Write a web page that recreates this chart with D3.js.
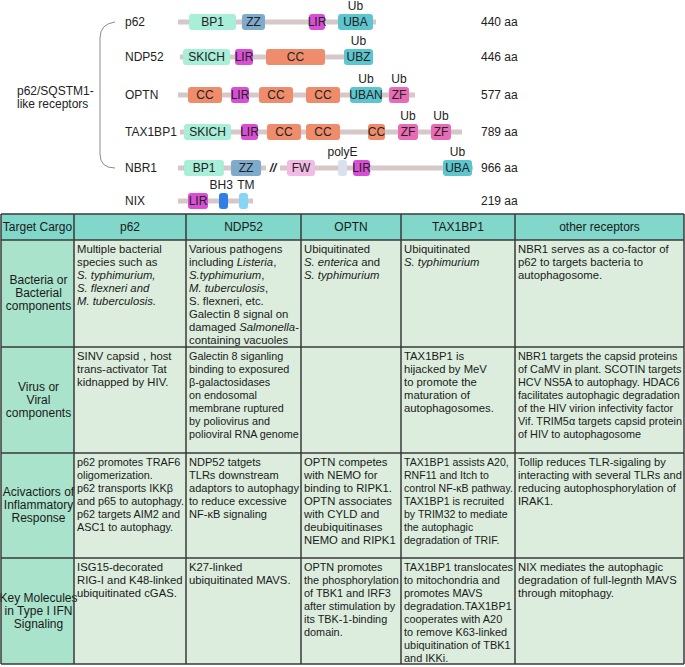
<!DOCTYPE html>
<html>
  <head>
    <meta charset="utf-8">
    <title>p62/SQSTM1-like receptors and their cargo</title>
    <script src="https://d3js.org/d3.v7.min.js"></script>
    <style>
      body { margin: 0; background: #fff; }
      svg { display: block; font-family: "Liberation Sans", Arial, sans-serif; }
      .lbl { font-size: 12px; fill: #222; }
      .cell { font-size: 11.3px; fill: #1a1a1a; }
      .head { font-size: 12px; fill: #1a1a1a; }
    </style>
  </head>
  <body>
    <svg id="chart" width="685" height="667"></svg>
    <script>
      // ---- data: receptor domain maps (positions in diagram units) ----
      const proteins = ["p62", "NDP52", "OPTN", "TAX1BP1", "NBR1", "NIX"];
      const lengths = ["440 aa", "446 aa", "577 aa", "789 aa", "966 aa", "219 aa"];
      const backbones = [[0, 198], [2, 195], [0, 237], [2, 284], [0, 295], [0, 75]];
      // [name, start, end, kind, label above]
      const domainsP62 = [["BP1", 11, 58, "pb1"], ["ZZ", 64, 87, "zz"], ["LIR", 131, 147, "lir"], ["UBA", 160, 195, "ub", "Ub"]];
      const domainsNDP52 = [["SKICH", 5, 52, "pb1"], ["LIR", 57, 75, "lir"], ["CC", 88, 147, "cc"], ["UBZ", 166, 195, "ub", "Ub"]];
      const domainsOPTN = [["CC", 10, 44, "cc"], ["LIR", 53, 71, "lir"], ["CC", 81, 115, "cc"], ["CC", 128, 162, "cc"],
        ["UBAN", 172, 204, "ub", "Ub"], ["ZF", 211, 231, "zf", "Ub"]];
      const domainsTAX1BP1 = [["SKICH", 6, 53, "pb1"], ["LIR", 63, 80, "lir"], ["CC", 89, 123, "cc"], ["CC", 128, 162, "cc"],
        ["CC", 190, 207, "cc"], ["ZF", 220, 240, "zf", "Ub"], ["ZF", 253, 273, "zf", "Ub"]];
      const domainsNBR1 = [["BP1", 6, 46, "pb1"], ["ZZ", 53, 83, "zz"], ["FW", 109, 137, "fw"], ["", 160, 169, "polye", "polyE"],
        ["LIR", 175, 192, "lir"], ["UBA", 265, 294, "ub", "Ub"]];
      const domainsNIX = [["LIR", 10, 30, "lir"], ["", 41, 50, "bh3", "BH3"], ["", 61, 70, "tm", "TM"]];
      const domainSets = [domainsP62, domainsNDP52, domainsOPTN, domainsTAX1BP1, domainsNBR1, domainsNIX];
      const breakMarks = [null, null, null, null, 95, null];

      const kinds = ["pb1", "zz", "lir", "ub", "cc", "zf", "fw", "polye", "bh3", "tm"];
      const kindColors = ["#a8eed8", "#7eaacc", "#d84fd6", "#5cc5ce", "#ee8c6b", "#e96bb5", "#f2bbe3", "#d9e1ee", "#2f7fe4", "#86d5f4"];

      // ---- data: cargo table ----
      const columns = ["Target Cargo", "p62", "NDP52", "OPTN", "TAX1BP1", "other receptors"];
      const rowLabels = [
        ["Bacteria or", "Bacterial", "components"],
        ["Virus or", "Viral", "components"],
        ["Acivactiors of", "Inflammatory", "Response"],
        ["Key Molecules", "in Type I IFN", "Signaling"]
      ];
      // *...* marks italic text
      const bacteriaCells = [
        ["Multiple bacterial", "species such as", "*S. typhimurium,*", "*S. flexneri and*", "*M. tuberculosis.*"],
        ["Various pathogens", "including *Listeria*,", "*S.typhimurium*,", "*M. tuberculosis*,", "S. flexneri, etc.",
          "Galectin 8 signal on", "damaged *Salmonella*-", "containing vacuoles"],
        ["Ubiquitinated", "*S. enterica* and", "*S. typhimurium*"],
        ["Ubiquitinated", "*S. typhimurium*"],
        ["NBR1 serves as a co-factor of", "p62 to targets bacteria to", "autophagosome."]
      ];
      const virusCells = [
        ["SINV capsid\uff0chost", "trans-activator Tat", "kidnapped by HIV."],
        ["Galectin 8 siganling", "binding to exposured", "\u03b2-galactosidases", "on endosomal", "membrane ruptured",
          "by  poliovirus and", "polioviral RNA genome"],
        [],
        ["TAX1BP1 is", "hijacked by MeV", "to promote the", "maturation of", "autophagosomes."],
        ["NBR1 targets the capsid proteins", "of CaMV in plant. SCOTIN targets", "HCV NS5A to autophagy. HDAC6",
          "facilitates autophagic degradation", "of the HIV virion infectivity factor", "Vif. TRIM5\u03b1 targets capsid protein",
          "of HIV to autophagosome"]
      ];
      const inflammationCells = [
        ["p62 promotes TRAF6", "oligomerization.", "p62 transports IKK\u03b2", "and p65 to autophagy.", "p62 targets AIM2 and",
          "ASC1 to autophagy."],
        ["NDP52 tatgets", "TLRs downstream", "adaptors to autophagy", "to reduce excessive", "NF-\u03baB signaling"],
        ["OPTN competes", "with NEMO for", "binding to RIPK1.", "OPTN associates", "with CYLD and", "deubiquitinases",
          "NEMO and RIPK1"],
        ["TAX1BP1 assists A20,", "RNF11 and Itch to", "control NF-\u03baB pathway.", "TAX1BP1 is recruited",
          "by TRIM32 to mediate", "the autophagic", "degradation of TRIF."],
        ["Tollip reduces TLR-sigaling by", "interacting with several TLRs and", "reducing autophosphorylation of", "IRAK1."]
      ];
      const ifnCells = [
        ["ISG15-decorated", "RIG-I and K48-linked", "ubiquitinated cGAS."],
        ["K27-linked", "ubiquitinated MAVS."],
        ["OPTN promotes", "the phosphorylation", "of TBK1 and IRF3", "after stimulation by", "its TBK-1-binding", "domain."],
        ["TAX1BP1 translocates", "to mitochondria and", "promotes MAVS", "degradation.TAX1BP1", "cooperates with A20",
          "to remove K63-linked", "ubiquitination of TBK1", "and IKKi."],
        ["NIX mediates the autophagic", "degradation of full-legnth MAVS", "through mitophagy."]
      ];
      const tableRows = [bacteriaCells, virusCells, inflammationCells, ifnCells];

      // ---- layout ----
      chart = d3.select("#chart");
      diagram = chart.append("g");
      table = chart.append("g");

      x = d3.scaleLinear().domain([0, 300]).range([178, 478]);
      color = d3.scaleOrdinal().domain(kinds).range(kindColors);
      rowY = [22, 57, 95, 132, 168, 201];
      yRow = d3.scaleOrdinal().domain(proteins).range(rowY);

      // bracket for p62/SQSTM1-like receptors
      diagram.append("path")
        .attr("d", "M115,22 Q100,24 100,38 L100,154 Q100,168 115,168")
        .attr("fill", "none")
        .attr("stroke", "#8a8a8a")
        .attr("stroke-width", 1);
      diagram.append("text")
        .attr("class", "lbl")
        .attr("x", 17)
        .attr("y", 95)
        .text("p62/SQSTM1-");
      diagram.append("text")
        .attr("class", "lbl")
        .attr("x", 17)
        .attr("y", 108)
        .text("like receptors");

      rows = diagram.selectAll(".protein")
        .data(proteins)
        .enter().append("g")
          .attr("class", "protein")
          .attr("transform", function(d) { return "translate(0," + yRow(d) + ")"; });

      rows.append("text")
        .attr("class", "lbl")
        .attr("x", 125)
        .attr("dy", "0.35em")
        .text(function(d) { return d; });

      rows.append("text")
        .attr("class", "lbl")
        .attr("x", 481)
        .attr("dy", "0.3em")
        .text(function(d, i) { return lengths[i]; });

      rows.append("rect")
        .attr("x", function(d, i) { return x(backbones[i][0]); })
        .attr("width", function(d, i) { return x(backbones[i][1]) - x(backbones[i][0]); })
        .attr("y", -2.5)
        .attr("height", 5)
        .attr("fill", "#d6c8c8");

      rows.each(function(p, i) {
        const g = d3.select(this);
        const doms = g.selectAll(".dom")
          .data(domainSets[i])
          .enter().append("g")
            .attr("class", "dom");
        doms.append("rect")
          .attr("x", function(d) { return x(d[1]); })
          .attr("width", function(d) { return x(d[2]) - x(d[1]); })
          .attr("y", -8)
          .attr("height", 16)
          .attr("rx", 3)
          .attr("fill", function(d) { return color(d[3]); });
        doms.append("text")
          .attr("class", "lbl")
          .attr("x", function(d) { return (x(d[1]) + x(d[2])) / 2; })
          .attr("dy", "0.36em")
          .attr("text-anchor", "middle")
          .text(function(d) { return d[0]; });
        const above = doms.filter(function(d) { return d[4]; })
          .append("text")
          .attr("class", "lbl above")
          .attr("x", function(d) { return (x(d[1]) + x(d[2])) / 2; })
          .attr("y", -12)
          .attr("text-anchor", "middle")
          .text(function(d) { return d[4]; });
        // push apart labels above that would touch
        const nodes = above.nodes();
        for (let k = 1; k < nodes.length; k++) {
          const a = nodes[k - 1].getBBox(), b = nodes[k].getBBox();
          const gap = b.x - (a.x + a.width);
          if (gap < 4) {
            const shift = (4 - gap) / 2;
            d3.select(nodes[k - 1]).attr("x", +d3.select(nodes[k - 1]).attr("x") - shift);
            d3.select(nodes[k]).attr("x", +d3.select(nodes[k]).attr("x") + shift);
          }
        }
        if (breakMarks[i] != null) {
          g.append("rect")
            .attr("x", x(breakMarks[i]) - 7)
            .attr("width", 14)
            .attr("y", -3)
            .attr("height", 6)
            .attr("fill", "#fff");
          g.append("text")
            .attr("class", "lbl")
            .attr("x", x(breakMarks[i]))
            .attr("dy", "0.36em")
            .attr("text-anchor", "middle")
            .style("font-style", "italic")
            .style("font-weight", "bold")
            .text("//");
        }
      });

      // ---- table ----
      colEdges = [1, 74, 186, 301, 401, 515, 684];
      rowEdges = [214, 240, 347, 453, 558, 664];
      lineH = 13;

      // one <text> per line, italic parts as tspans
      function addLines(sel, lines, x0, y0, anchor, cls) {
        const g = sel.append("g");
        lines.forEach(function(line, k) {
          const t = g.append("text")
            .attr("class", cls)
            .attr("x", x0)
            .attr("y", y0 + k * lineH)
            .attr("text-anchor", anchor);
          line.split("*").forEach(function(part, j) {
            if (!part.length) return;
            const ts = t.append("tspan").text(part);
            if (j % 2 === 1) ts.style("font-style", "italic");
          });
        });
        return g;
      }

      // shrink a cell's text if a line is wider than the cell
      function fit(g, avail) {
        let widest = 0;
        g.selectAll("text").each(function() {
          widest = Math.max(widest, this.getComputedTextLength());
        });
        if (widest > avail) {
          const fs = 11.3 * avail / widest;
          g.selectAll("text").style("font-size", fs + "px");
        }
      }

      // header
      columns.forEach(function(c, j) {
        table.append("rect")
          .attr("x", colEdges[j])
          .attr("y", rowEdges[0])
          .attr("width", colEdges[j + 1] - colEdges[j])
          .attr("height", rowEdges[1] - rowEdges[0])
          .attr("fill", "#80d7ca");
        table.append("text")
          .attr("class", "head")
          .attr("x", (colEdges[j] + colEdges[j + 1]) / 2)
          .attr("y", (rowEdges[0] + rowEdges[1]) / 2)
          .attr("dy", "0.36em")
          .attr("text-anchor", "middle")
          .text(c);
      });

      tableRows.forEach(function(cells, r) {
        const top = rowEdges[r + 1], bot = rowEdges[r + 2];
        table.append("rect")
          .attr("x", colEdges[0])
          .attr("y", top)
          .attr("width", colEdges[1] - colEdges[0])
          .attr("height", bot - top)
          .attr("fill", "#a9e3cb");
        cells.forEach(function(lines, j) {
          table.append("rect")
            .attr("x", colEdges[j + 1])
            .attr("y", top)
            .attr("width", colEdges[j + 2] - colEdges[j + 1])
            .attr("height", bot - top)
            .attr("fill", "#dcedde");
          const g = addLines(table, lines, colEdges[j + 1] + 3, top + 13, "start", "cell");
          fit(g, colEdges[j + 2] - colEdges[j + 1] - 5);
        });
      });

      // row labels drawn last so they can spill over the first border like the original
      tableRows.forEach(function(cells, r) {
        const top = rowEdges[r + 1], bot = rowEdges[r + 2];
        addLines(table, rowLabels[r], (colEdges[0] + colEdges[1]) / 2 + 1,
          (top + bot) / 2 - lineH * 1.05 + 4.5, "middle", "head");
      });

      // grid lines
      table.selectAll(".vline")
        .data(colEdges)
        .enter().append("line")
          .attr("x1", function(d) { return d; })
          .attr("x2", function(d) { return d; })
          .attr("y1", rowEdges[0])
          .attr("y2", rowEdges[rowEdges.length - 1])
          .attr("stroke", "#3a3a3a")
          .attr("stroke-width", 1.5);
      table.selectAll(".hline")
        .data(rowEdges)
        .enter().append("line")
          .attr("x1", colEdges[0])
          .attr("x2", colEdges[colEdges.length - 1])
          .attr("y1", function(d) { return d; })
          .attr("y2", function(d) { return d; })
          .attr("stroke", "#3a3a3a")
          .attr("stroke-width", 1.5);
    </script>
  </body>
</html>
